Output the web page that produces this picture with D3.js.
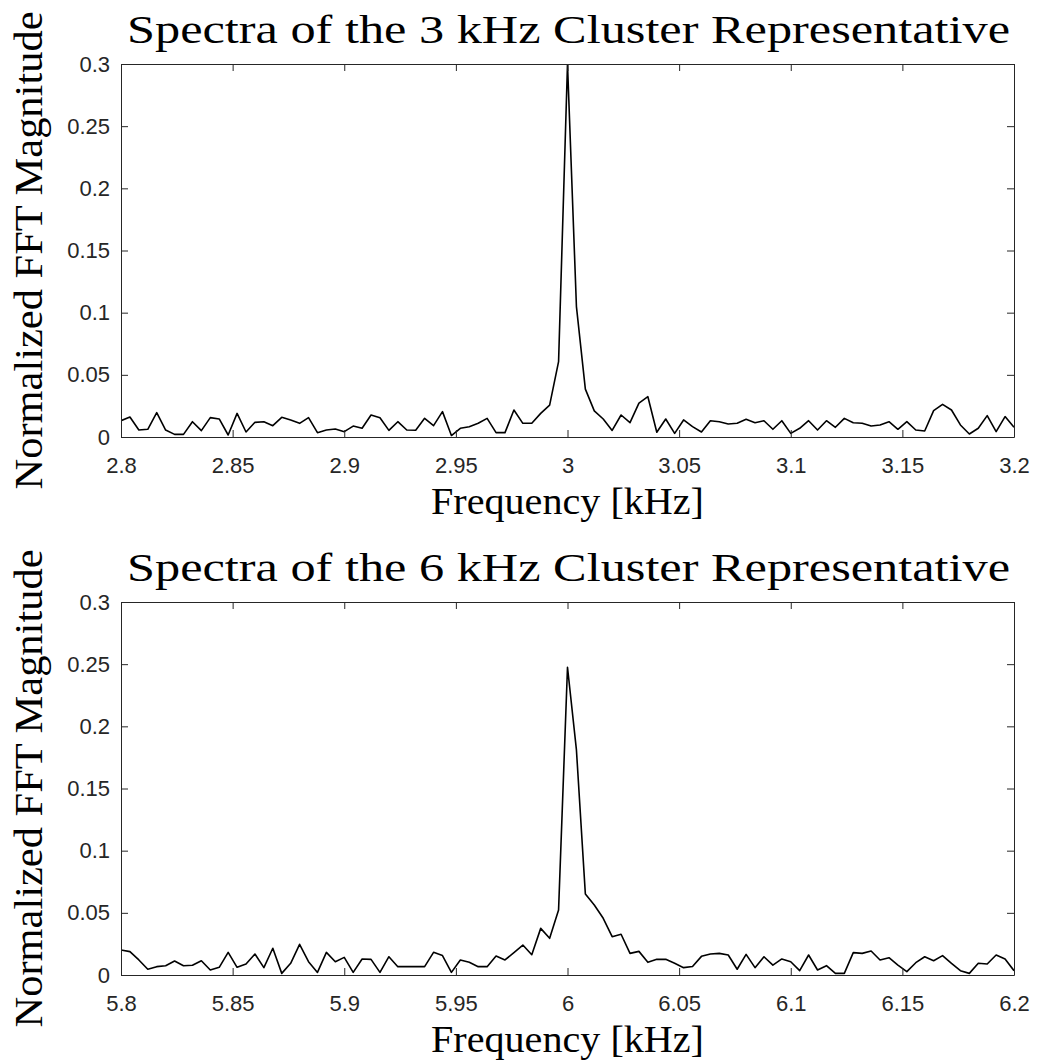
<!DOCTYPE html>
<html>
<head>
<meta charset="utf-8">
<script src="https://cdn.jsdelivr.net/npm/d3@7"></script>
<style>
  html, body { margin: 0; padding: 0; background: #fff; }
  svg { display: block; }
</style>
</head>
<body>
<svg id="fig" width="1037" height="1061"></svg>
<script>
// Normalized FFT magnitude around the 3 kHz cluster representative (4 Hz bins, 2.8–3.2 kHz)
const spectrum3kHz = [
  0.0131, 0.0161, 0.0056, 0.0062, 0.0196, 0.0056, 0.0021, 0.0021, 0.0123, 0.0051,
  0.0156, 0.0145, 0.0016, 0.0190, 0.0040, 0.0118, 0.0123, 0.0091, 0.0158, 0.0137,
  0.0110, 0.0156, 0.0035, 0.0056, 0.0064, 0.0043, 0.0088, 0.0070, 0.0177, 0.0155,
  0.0053, 0.0123, 0.0056, 0.0054, 0.0150, 0.0091, 0.0204, 0.0012, 0.0070, 0.0083,
  0.0110, 0.0150, 0.0035, 0.0035, 0.0217, 0.0110, 0.0110, 0.0190, 0.0257, 0.0606,
  0.3000, 0.1049, 0.0385, 0.0210, 0.0145, 0.0053, 0.0177, 0.0115, 0.0273, 0.0324,
  0.0038, 0.0145, 0.0029, 0.0137, 0.0083, 0.0040, 0.0131, 0.0123, 0.0105, 0.0110,
  0.0142, 0.0115, 0.0131, 0.0062, 0.0131, 0.0029, 0.0070, 0.0131, 0.0056, 0.0131,
  0.0078, 0.0150, 0.0115, 0.0110, 0.0088, 0.0097, 0.0123, 0.0062, 0.0123, 0.0056,
  0.0048, 0.0212, 0.0263, 0.0217, 0.0097, 0.0024, 0.0070, 0.0172, 0.0043, 0.0164,
  0.0078
];

// Normalized FFT magnitude around the 6 kHz cluster representative (4 Hz bins, 5.8–6.2 kHz)
const spectrum6kHz = [
  0.0201, 0.0188, 0.0121, 0.0046, 0.0067, 0.0075, 0.0113, 0.0075, 0.0078, 0.0115,
  0.0040, 0.0062, 0.0182, 0.0062, 0.0088, 0.0169, 0.0059, 0.0215, 0.0013, 0.0094,
  0.0247, 0.0107, 0.0021, 0.0182, 0.0107, 0.0142, 0.0021, 0.0129, 0.0126, 0.0021,
  0.0147, 0.0067, 0.0067, 0.0067, 0.0067, 0.0182, 0.0156, 0.0021, 0.0121, 0.0102,
  0.0067, 0.0067, 0.0153, 0.0121, 0.0180, 0.0241, 0.0163, 0.0375, 0.0295, 0.0523,
  0.2475, 0.1810, 0.0652, 0.0563, 0.0456, 0.0308, 0.0328, 0.0174, 0.0190, 0.0102,
  0.0126, 0.0126, 0.0094, 0.0059, 0.0068, 0.0150, 0.0169, 0.0174, 0.0161, 0.0046,
  0.0166, 0.0059, 0.0147, 0.0080, 0.0129, 0.0107, 0.0035, 0.0161, 0.0040, 0.0075,
  0.0013, 0.0013, 0.0180, 0.0174, 0.0193, 0.0121, 0.0139, 0.0080, 0.0027, 0.0099,
  0.0147, 0.0115, 0.0156, 0.0094, 0.0035, 0.0013, 0.0094, 0.0088, 0.0161, 0.0129,
  0.0035
];

const binStepKHz = 0.004;
const startKHz3 = 2.8;
const startKHz6 = 5.8;

const xTicks3 = [2.8, 2.85, 2.9, 2.95, 3, 3.05, 3.1, 3.15, 3.2];
const xTicks6 = [5.8, 5.85, 5.9, 5.95, 6, 6.05, 6.1, 6.15, 6.2];
const yTicks = [0, 0.05, 0.1, 0.15, 0.2, 0.25, 0.3];

const titles = [
  "Spectra of the 3 kHz Cluster Representative",
  "Spectra of the 6 kHz Cluster Representative"
];
const xLabelText = "Frequency [kHz]";
const yLabelText = "Normalized FFT Magnitude";

// Layout
const plotLeft = 121, plotRight = 1014;
const panelTops = [64, 602];
const plotHeight = 373;
const axisColor = "#262626";
const serif = "'Liberation Serif', 'DejaVu Serif', serif";
const sans = "'Liberation Sans', Arial, sans-serif";

const svg = d3.select("#fig");

function drawPanel(idx, values, startKHz, xTicks, title) {
  const top = panelTops[idx];
  const bottom = top + plotHeight;
  const x = d3.scaleLinear().domain([xTicks[0], xTicks[xTicks.length - 1]]).range([plotLeft, plotRight]);
  const y = d3.scaleLinear().domain([0, 0.3]).range([bottom, top]);
  const g = svg.append("g");

  const clipId = "clip" + idx;
  svg.append("clipPath").attr("id", clipId)
    .append("rect").attr("x", plotLeft).attr("y", top)
    .attr("width", plotRight - plotLeft).attr("height", plotHeight);

  const pts = values.map((v, i) => ({ f: startKHz + binStepKHz * i, v }));
  const line = d3.line().x(d => x(d.f)).y(d => y(d.v));
  g.append("path").datum(pts)
    .attr("clip-path", `url(#${clipId})`)
    .attr("d", line)
    .attr("fill", "none")
    .attr("stroke", "#000")
    .attr("stroke-width", 1.6)
    .attr("stroke-linejoin", "round");

  const fmt = d => String(+d.toFixed(2));

  // Bottom axis with inward ticks
  const xAxisB = d3.axisBottom(x).tickValues(xTicks).tickSizeInner(-7).tickSizeOuter(0).tickPadding(20).tickFormat(fmt);
  const gxb = g.append("g").attr("transform", `translate(0,${bottom})`).call(xAxisB);
  gxb.selectAll("text").attr("font-family", sans).attr("font-size", 22).attr("fill", axisColor);
  // Top axis: ticks only
  const xAxisT = d3.axisTop(x).tickValues(xTicks).tickSizeInner(-7).tickSizeOuter(0).tickFormat("");
  g.append("g").attr("transform", `translate(0,${top})`).call(xAxisT);
  // Left axis with labels
  const yAxisL = d3.axisLeft(y).tickValues(yTicks).tickSizeInner(-7).tickSizeOuter(0).tickPadding(11).tickFormat(fmt);
  const gyl = g.append("g").attr("transform", `translate(${plotLeft},0)`).call(yAxisL);
  gyl.selectAll("text").attr("font-family", sans).attr("font-size", 22).attr("fill", axisColor);
  // Right axis: ticks only
  const yAxisR = d3.axisRight(y).tickValues(yTicks).tickSizeInner(-7).tickSizeOuter(0).tickFormat("");
  g.append("g").attr("transform", `translate(${plotRight},0)`).call(yAxisR);

  g.selectAll(".domain").attr("stroke", axisColor).attr("stroke-width", 1);
  g.selectAll(".tick line").attr("stroke", axisColor).attr("stroke-width", 1);

  // Title
  g.append("text")
    .attr("x", (plotLeft + plotRight) / 2 + 1)
    .attr("y", top - 21)
    .attr("text-anchor", "middle")
    .attr("font-family", serif)
    .attr("font-size", 40)
    .attr("fill", "#000")
    .attr("textLength", 883)
    .attr("lengthAdjust", "spacingAndGlyphs")
    .text(title);

  // X label
  g.append("text")
    .attr("x", (plotLeft + plotRight) / 2)
    .attr("y", bottom + 77)
    .attr("text-anchor", "middle")
    .attr("font-family", serif)
    .attr("font-size", 38)
    .attr("fill", "#000")
    .attr("textLength", 273)
    .attr("lengthAdjust", "spacingAndGlyphs")
    .text(xLabelText);

  // Y label
  g.append("text")
    .attr("transform", `translate(42,${(top + bottom) / 2}) rotate(-90)`)
    .attr("text-anchor", "middle")
    .attr("font-family", serif)
    .attr("font-size", 40)
    .attr("fill", "#000")
    .attr("textLength", 478)
    .attr("lengthAdjust", "spacingAndGlyphs")
    .text(yLabelText);
}

drawPanel(0, spectrum3kHz, startKHz3, xTicks3, titles[0]);
drawPanel(1, spectrum6kHz, startKHz6, xTicks6, titles[1]);
</script>
</body>
</html>
